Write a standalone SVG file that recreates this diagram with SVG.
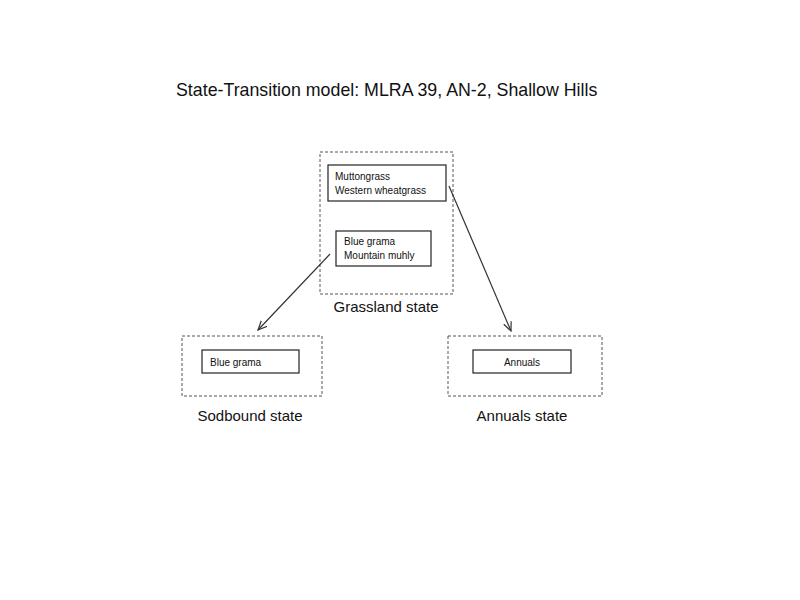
<svg xmlns="http://www.w3.org/2000/svg" width="800" height="600" viewBox="0 0 800 600">
<style>
text{font-family:"Liberation Sans",Arial,sans-serif;fill:#111}
.state{fill:none;stroke:#555;stroke-width:1;stroke-dasharray:3,2}
.box{fill:#fff;stroke:#222;stroke-width:1.2}
.s{font-size:10px}
.l{font-size:15px}
.c{stroke:#333;stroke-width:1.2;marker-end:url(#a)}
</style>
<defs><marker id="a" markerWidth="10" markerHeight="10" refX="9" refY="5" orient="auto" markerUnits="userSpaceOnUse"><path d="M0,1 L9,5 L0,9" fill="none" stroke="#333" stroke-width="1.2"/></marker></defs>
<rect width="800" height="600" fill="#fff"/>
<text x="176" y="96" font-size="17.8">State-Transition model: MLRA 39, AN-2, Shallow Hills</text>
<g id="grassland">
<rect class="state" x="320" y="152" width="133" height="142"/>
<rect class="box" x="328" y="165" width="118" height="36"/>
<text class="s" x="335" y="180">Muttongrass</text>
<text class="s" x="335" y="194">Western wheatgrass</text>
<rect class="box" x="336" y="231" width="95" height="35"/>
<text class="s" x="344" y="245">Blue grama</text>
<text class="s" x="344" y="259">Mountain muhly</text>
<text class="l" x="386" y="312" text-anchor="middle">Grassland state</text>
</g>
<g id="sodbound">
<rect class="state" x="182" y="336" width="140" height="60"/>
<rect class="box" x="202" y="350" width="97" height="23"/>
<text class="s" x="210" y="366">Blue grama</text>
<text class="l" x="250" y="421" text-anchor="middle">Sodbound state</text>
</g>
<g id="annuals">
<rect class="state" x="448" y="336" width="154" height="60"/>
<rect class="box" x="473" y="350" width="98" height="23"/>
<text class="s" x="522" y="366" text-anchor="middle">Annuals</text>
<text class="l" x="522" y="421" text-anchor="middle">Annuals state</text>
</g>
<g id="connectors">
<line class="c" x1="330" y1="254" x2="258" y2="330"/>
<line class="c" x1="449" y1="186" x2="511" y2="331"/>
</g>
</svg>
